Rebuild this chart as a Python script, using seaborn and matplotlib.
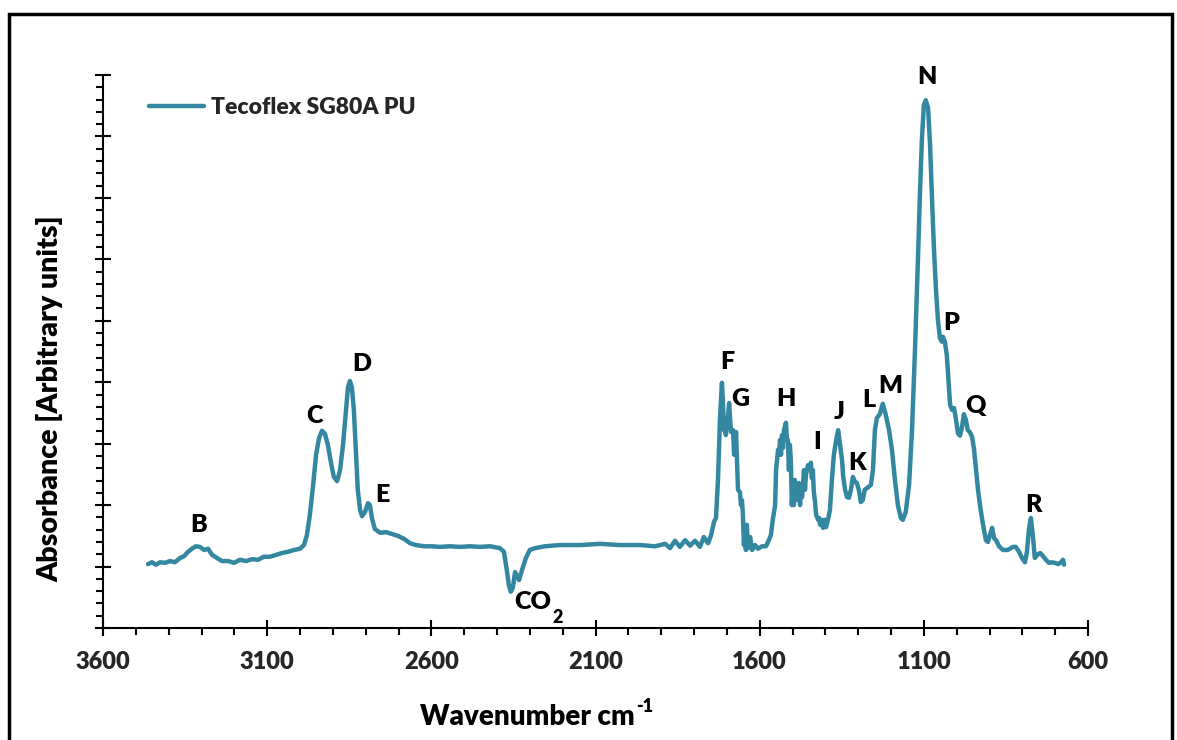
import matplotlib
matplotlib.use("Agg")
import matplotlib.pyplot as plt
import seaborn as sns
import numpy as np
import pandas as pd
from matplotlib.ticker import FixedLocator, MultipleLocator, NullFormatter
from matplotlib.patches import Rectangle

# ---------------- data ----------------
wavenumber = [
    3463, 3451, 3439, 3426, 3411, 3396, 3381, 3365, 3353, 3341, 3329, 3317, 3305, 3292, 3280, 3268,
    3253, 3238, 3219, 3201, 3183, 3164, 3146, 3128, 3110, 3091, 3073, 3055, 3037, 3018, 3000, 2988,
    2979, 2970, 2960, 2951, 2942, 2933, 2924, 2915, 2906, 2897, 2887, 2878, 2869, 2860, 2854, 2848,
    2842, 2836, 2830, 2824, 2817, 2811, 2802, 2793, 2787, 2781, 2772, 2756, 2738, 2720, 2702, 2683,
    2665, 2647, 2622, 2598, 2574, 2543, 2513, 2482, 2452, 2421, 2391, 2379, 2370, 2364, 2358, 2352,
    2345, 2339, 2333, 2324, 2312, 2300, 2284, 2254, 2208, 2147, 2086, 2025, 1964, 1919, 1888, 1873,
    1858, 1843, 1827, 1812, 1797, 1782, 1770, 1757, 1748, 1739, 1733, 1727, 1721, 1715, 1712, 1709,
    1706, 1703, 1696, 1693, 1690, 1687, 1681, 1678, 1675, 1672, 1669, 1666, 1660, 1657, 1654, 1651,
    1648, 1645, 1642, 1639, 1636, 1629, 1623, 1614, 1605, 1593, 1581, 1572, 1566, 1560, 1553, 1550,
    1544, 1541, 1538, 1535, 1532, 1529, 1526, 1520, 1517, 1514, 1511, 1508, 1505, 1502, 1499, 1496,
    1493, 1490, 1487, 1484, 1481, 1477, 1474, 1471, 1465, 1462, 1459, 1453, 1447, 1444, 1441, 1438,
    1435, 1432, 1428, 1422, 1419, 1416, 1410, 1407, 1401, 1398, 1392, 1386, 1380, 1374, 1367, 1361,
    1355, 1349, 1346, 1340, 1334, 1328, 1322, 1316, 1310, 1304, 1298, 1292, 1286, 1280, 1270, 1261,
    1255, 1249, 1243, 1234, 1225, 1216, 1206, 1197, 1188, 1179, 1170, 1164, 1155, 1145, 1136, 1127,
    1118, 1112, 1106, 1100, 1094, 1087, 1081, 1075, 1069, 1063, 1057, 1051, 1045, 1042, 1036, 1030,
    1024, 1020, 1014, 1008, 1002, 996, 990, 984, 978, 972, 966, 960, 953, 947, 941, 935,
    929, 923, 917, 911, 905, 899, 892, 886, 880, 871, 859, 844, 829, 820, 810, 801,
    792, 786, 780, 774, 768, 762, 755, 746, 737, 728, 719, 710, 701, 691, 682, 676, 673,
]
absorbance = [
    1.04, 1.07, 1.03, 1.07, 1.06, 1.09, 1.07, 1.14, 1.17, 1.24, 1.29, 1.33, 1.32, 1.27, 1.29, 1.19,
    1.14, 1.09, 1.09, 1.06, 1.11, 1.09, 1.12, 1.11, 1.16, 1.16, 1.19, 1.22, 1.24, 1.27, 1.29, 1.35,
    1.51, 1.84, 2.33, 2.82, 3.09, 3.21, 3.16, 2.98, 2.70, 2.46, 2.39, 2.57, 2.98, 3.55, 3.91, 4.02,
    3.92, 3.55, 2.90, 2.25, 1.92, 1.82, 1.89, 2.03, 2.00, 1.79, 1.61, 1.55, 1.56, 1.53, 1.50, 1.45,
    1.38, 1.35, 1.33, 1.33, 1.32, 1.33, 1.32, 1.33, 1.32, 1.33, 1.30, 1.24, 0.94, 0.70, 0.59, 0.65,
    0.91, 0.85, 0.78, 0.94, 1.14, 1.27, 1.30, 1.33, 1.35, 1.35, 1.37, 1.35, 1.35, 1.33, 1.37, 1.30,
    1.42, 1.32, 1.43, 1.34, 1.42, 1.32, 1.48, 1.38, 1.51, 1.73, 1.79, 2.41, 3.39, 3.99, 3.71, 3.22,
    3.30, 3.14, 3.47, 3.66, 3.39, 3.19, 3.22, 2.82, 2.90, 3.19, 2.73, 2.25, 2.21, 2.00, 2.08, 1.84,
    1.35, 1.60, 1.27, 1.68, 1.30, 1.48, 1.27, 1.35, 1.29, 1.33, 1.33, 1.43, 1.51, 1.76, 2.00, 2.57,
    2.90, 2.82, 3.06, 2.82, 3.14, 2.93, 3.22, 3.34, 3.06, 3.06, 2.57, 2.98, 2.73, 2.00, 2.33, 2.00,
    2.41, 2.08, 2.33, 2.13, 2.36, 2.00, 2.33, 2.13, 2.57, 2.25, 2.49, 2.65, 2.57, 2.69, 2.44, 2.57,
    2.21, 2.08, 1.84, 1.76, 1.79, 1.68, 1.76, 1.63, 1.76, 1.64, 1.76, 1.92, 2.41, 2.82, 3.06, 3.22,
    2.98, 2.73, 2.49, 2.25, 2.13, 2.12, 2.25, 2.46, 2.38, 2.36, 2.25, 2.05, 2.08, 2.25, 2.29, 2.33,
    2.57, 3.22, 3.42, 3.48, 3.65, 3.47, 3.22, 2.90, 2.41, 2.00, 1.79, 1.76, 1.89, 2.33, 3.22, 4.52,
    5.99, 7.05, 7.94, 8.51, 8.59, 8.46, 7.86, 6.97, 6.15, 5.50, 5.01, 4.72, 4.66, 4.74, 4.66, 4.44,
    3.96, 3.63, 3.55, 3.58, 3.39, 3.17, 3.13, 3.26, 3.48, 3.39, 3.22, 3.19, 3.11, 2.90, 2.57, 2.25,
    2.00, 1.79, 1.60, 1.43, 1.40, 1.51, 1.63, 1.46, 1.43, 1.33, 1.27, 1.27, 1.32, 1.32, 1.24, 1.14,
    1.07, 1.24, 1.60, 1.79, 1.51, 1.14, 1.19, 1.22, 1.17, 1.11, 1.06, 1.07, 1.06, 1.04, 1.07, 1.11, 1.03,
]

peak_labels = ["B", "C", "D", "E", "F", "G", "H", "I", "J", "K", "L", "M", "N", "P", "Q", "R", "CO"]
label_wavenumber = [3308, 2957, 2811, 2750, 1700, 1660, 1520, 1425, 1358, 1303, 1267, 1203, 1090,
                    1017, 944, 767, 2290]
label_height = [1.68, 3.45, 4.30, 2.16, 4.33, 3.73, 3.73, 3.03, 3.52, 2.69, 3.71, 3.94, 8.97,
                4.96, 3.61, 2.00, 0.42]

x_major_ticks = [3600, 3100, 2600, 2100, 1600, 1100, 600]
series_name = "Tecoflex SG80A PU"

# ---------------- style ----------------
sns.set_theme(style="ticks")
plt.rcParams["font.family"] = ["Lato", "DejaVu Sans"]
plt.rcParams["font.weight"] = "bold"

WEIGHT = "heavy"
line_color = "#3387A0"

W, H = 1177, 740
fig = plt.figure(figsize=(W / 100, H / 100), dpi=100)
ax = fig.add_axes([103 / W, 1 - 628 / H, 985 / W, 553 / H])

df = pd.DataFrame({"Wavenumber": wavenumber, "Absorbance": absorbance})
sns.lineplot(data=df, x="Wavenumber", y="Absorbance", ax=ax, color=line_color,
             linewidth=3.2, sort=False, estimator=None, label=series_name)

ax.set_xlim(3600, 600)
ax.set_ylim(0, 9)

ax.xaxis.set_major_locator(FixedLocator(x_major_ticks))
ax.xaxis.set_minor_locator(FixedLocator([v for v in range(600, 3601, 100) if v not in x_major_ticks]))
ax.yaxis.set_major_locator(MultipleLocator(1))
ax.yaxis.set_minor_locator(MultipleLocator(0.2))
ax.yaxis.set_major_formatter(NullFormatter())

ax.tick_params(axis="x", which="major", direction="inout", length=11, width=1.5,
               color="black", labelsize=17, pad=11)
ax.tick_params(axis="x", which="minor", direction="out", length=5, width=1.5, color="black")
ax.tick_params(axis="y", which="major", direction="inout", length=12, width=1.5, color="black")
ax.tick_params(axis="y", which="minor", direction="out", length=5, width=1.5, color="black")
for lab in ax.get_xticklabels():
    lab.set_fontweight(WEIGHT)

sns.despine(ax=ax)
for s in ["left", "bottom"]:
    ax.spines[s].set_linewidth(1.5)
    ax.spines[s].set_color("black")

ax.set_xlabel("")
ax.set_ylabel("")

renderer = fig.canvas.get_renderer()

# x-axis title with a small raised "-1"
xt = fig.text(420 / W, 1 - 717 / H, "Wavenumber cm", ha="left", va="center",
              fontsize=20, fontweight=WEIGHT, color="black")
bb = xt.get_window_extent(renderer)
fig.text((bb.x1 + 1) / W, 1 - 706 / H, "-1", ha="left", va="center",
         fontsize=13, fontweight=WEIGHT, color="black")

fig.text(50 / W, 1 - 399 / H, "Absorbance [Arbitrary units]", ha="center", va="center",
         rotation=90, fontsize=20.5, fontweight=WEIGHT, color="black")

for lab, xw, yh in zip(peak_labels, label_wavenumber, label_height):
    t = ax.text(xw, yh, lab, ha="center", va="center", fontsize=18, fontweight=WEIGHT,
                color="black")
    if lab == "CO":
        b2 = t.get_window_extent(renderer)
        fig.text((b2.x1 + 1) / W, (b2.y0 - 4) / H, "2", ha="left", va="center",
                 fontsize=13, fontweight=WEIGHT, color="black")

leg = ax.legend(loc="center left", bbox_to_anchor=((149 - 103) / 985, (628 - 108) / 553),
                frameon=False, borderaxespad=0, borderpad=0, handlelength=2.4,
                handletextpad=0.3, prop={"family": "Lato", "weight": WEIGHT, "size": 16.5})
for h in leg.get_lines():
    h.set_linewidth(3.2)

fig.add_artist(Rectangle((9 / W, -0.05), (1172 - 9) / W, 1 - 14 / H + 0.05, fill=False,
                         lw=2.5, edgecolor="black", transform=fig.transFigure, clip_on=False))

fig.savefig("out.png", dpi=100)
